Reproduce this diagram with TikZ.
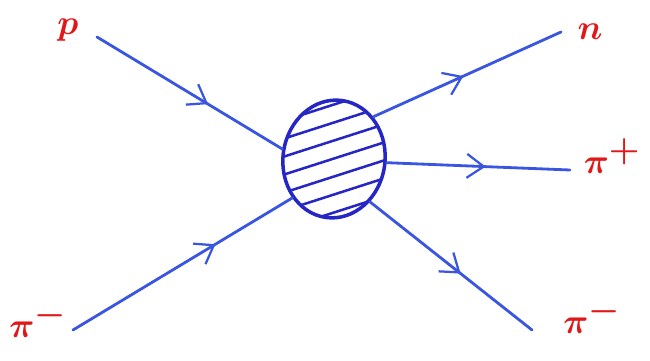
\documentclass[tikz,border=0pt]{standalone}
\usepackage{xcolor}
\usepackage{tikz}
\usetikzlibrary{arrows.meta,positioning,shapes.geometric,decorations.markings}
\definecolor{inkblue}{HTML}{3A55E0}
\definecolor{blobblue}{HTML}{2626C4}
\definecolor{inkred}{HTML}{E01818}
\tikzset{
  leg/.style={
    color=inkblue, line width=2pt, line cap=round,
    postaction={decorate},
    decoration={markings, mark=at position #1 with
      {\arrow{Straight Barb[length=12pt,width=17pt,line width=1.6pt]}}}
  },
  leg/.default=0.55,
  blobnode/.style={
    ellipse, draw=blobblue, line width=2.5pt,
    minimum width=2.55cm, minimum height=2.95cm, inner sep=0pt
  },
  hatch/.style={draw=blobblue, line width=1.8pt},
  partlabel/.style={
    text=inkred, font=\fontsize{40}{40}\selectfont\boldmath, inner sep=0pt
  },
}
\begin{document}
\begin{tikzpicture}[x=0.025cm, y=-0.025cm]
  \useasboundingbox (0,0) rectangle (650,361);

  % blob
  \node[blobnode, rotate=-8] (blob) at (334,159) {};
  \begin{scope}
    \clip (blob.center) ellipse [x radius=1.26cm, y radius=1.46cm];
    \foreach \k in {-3,...,3} {
      \draw[hatch] ([shift={(-70,22+\k*18)}]blob.center) -- ++(140,-45);
    }
  \end{scope}

  % free ends of the legs
  \coordinate (pin)   at (97,37);
  \coordinate (piin)  at (73,330);
  \coordinate (nout)  at (561,32);
  \coordinate (ppout) at (570,170);
  \coordinate (pmout) at (532,330);

  % legs
  \draw[leg=0.6]  (pin)  -- (blob.177);
  \draw[leg=0.65] (piin) -- (blob.231);
  \draw[leg=0.48] (blob.55)  -- (nout);
  \draw[leg=0.54] (blob.4)   -- (ppout);
  \draw[leg=0.56] (blob.318) -- (pmout);

  % labels
  \node[partlabel] (plab)  at (68,30)   {$p$};
  \node[partlabel] (nlab)  at (590,32)  {$n$};
  \node[partlabel] (pplab) at (612,156) {$\pi^+$};
  \node[partlabel] (pmlab) at (592,316) {$\pi^-$};
  \node[partlabel] (pilab) at (38,320)  {$\pi^-$};
\end{tikzpicture}
\end{document}
